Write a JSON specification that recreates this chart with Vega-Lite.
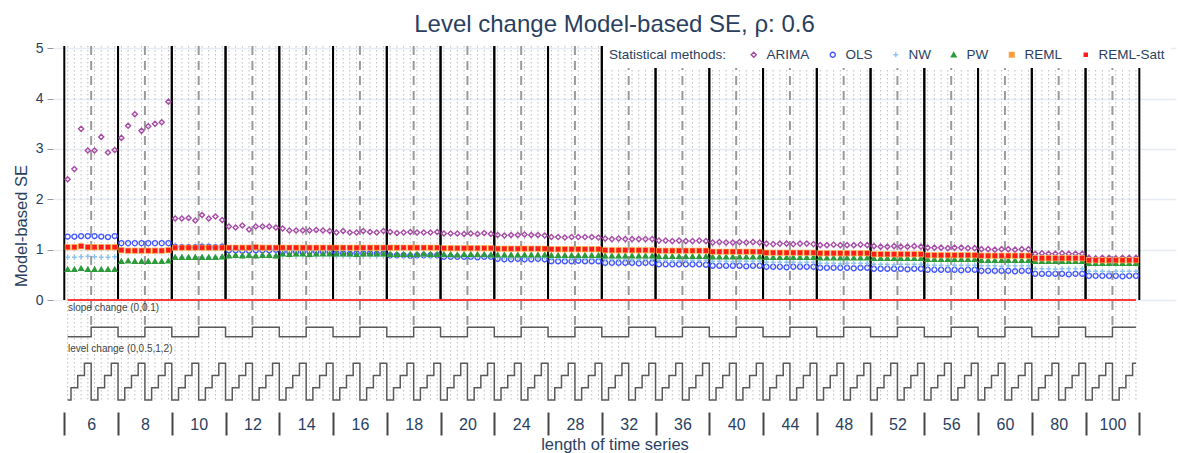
{
"$schema": "https://vega.github.io/schema/vega-lite/v6.json",
"width": 1123, "height": 359,
"autosize": {"type": "none"},
"padding": {"left": 53, "top": 46, "right": 2, "bottom": 48},
"background": "white",
"config": {"view": {"stroke": null}, "font": "Liberation Sans", "legend": {"symbolStrokeWidth": 1.4}},
"title": {"text": "Level change Model-based SE, ρ: 0.6", "fontSize": 24, "fontWeight": "normal", "color": "#2a3f5f", "anchor": "middle", "offset": 4},
"data": {"values": [
{"i":1,"n":6,"slope":0,"level":0,"ARIMA":2.40,"OLS":1.26,"NW":0.85,"PW":0.61,"REML":1.05,"REML-Satt":1.05},
{"i":2,"n":6,"slope":0,"level":0.5,"ARIMA":2.60,"OLS":1.26,"NW":0.85,"PW":0.61,"REML":1.05,"REML-Satt":1.05},
{"i":3,"n":6,"slope":0,"level":1,"ARIMA":3.40,"OLS":1.27,"NW":0.86,"PW":0.63,"REML":1.07,"REML-Satt":1.07},
{"i":4,"n":6,"slope":0,"level":2,"ARIMA":2.97,"OLS":1.27,"NW":0.87,"PW":0.61,"REML":1.05,"REML-Satt":1.05},
{"i":5,"n":6,"slope":0.1,"level":0,"ARIMA":2.97,"OLS":1.27,"NW":0.86,"PW":0.61,"REML":1.05,"REML-Satt":1.05},
{"i":6,"n":6,"slope":0.1,"level":0.5,"ARIMA":3.24,"OLS":1.26,"NW":0.85,"PW":0.61,"REML":1.05,"REML-Satt":1.05},
{"i":7,"n":6,"slope":0.1,"level":1,"ARIMA":2.93,"OLS":1.25,"NW":0.85,"PW":0.61,"REML":1.05,"REML-Satt":1.05},
{"i":8,"n":6,"slope":0.1,"level":2,"ARIMA":2.98,"OLS":1.27,"NW":0.86,"PW":0.61,"REML":1.05,"REML-Satt":1.05},
{"i":9,"n":8,"slope":0,"level":0,"ARIMA":3.22,"OLS":1.13,"NW":0.98,"PW":0.77,"REML":0.99,"REML-Satt":0.99},
{"i":10,"n":8,"slope":0,"level":0.5,"ARIMA":3.46,"OLS":1.13,"NW":0.98,"PW":0.78,"REML":0.98,"REML-Satt":0.98},
{"i":11,"n":8,"slope":0,"level":1,"ARIMA":3.69,"OLS":1.13,"NW":0.98,"PW":0.77,"REML":0.98,"REML-Satt":0.98},
{"i":12,"n":8,"slope":0,"level":2,"ARIMA":3.36,"OLS":1.13,"NW":0.98,"PW":0.77,"REML":0.98,"REML-Satt":0.98},
{"i":13,"n":8,"slope":0.1,"level":0,"ARIMA":3.45,"OLS":1.13,"NW":0.98,"PW":0.77,"REML":0.98,"REML-Satt":0.98},
{"i":14,"n":8,"slope":0.1,"level":0.5,"ARIMA":3.50,"OLS":1.13,"NW":0.98,"PW":0.77,"REML":0.98,"REML-Satt":0.98},
{"i":15,"n":8,"slope":0.1,"level":1,"ARIMA":3.53,"OLS":1.13,"NW":0.98,"PW":0.77,"REML":0.98,"REML-Satt":0.98},
{"i":16,"n":8,"slope":0.1,"level":2,"ARIMA":3.94,"OLS":1.13,"NW":0.99,"PW":0.78,"REML":0.99,"REML-Satt":0.99},
{"i":17,"n":10,"slope":0,"level":0,"ARIMA":1.62,"OLS":1.06,"NW":0.85,"PW":0.85,"REML":1.04,"REML-Satt":1.04},
{"i":18,"n":10,"slope":0,"level":0.5,"ARIMA":1.62,"OLS":1.05,"NW":0.85,"PW":0.85,"REML":1.04,"REML-Satt":1.04},
{"i":19,"n":10,"slope":0,"level":1,"ARIMA":1.63,"OLS":1.05,"NW":0.85,"PW":0.85,"REML":1.04,"REML-Satt":1.04},
{"i":20,"n":10,"slope":0,"level":2,"ARIMA":1.58,"OLS":1.05,"NW":0.85,"PW":0.85,"REML":1.04,"REML-Satt":1.04},
{"i":21,"n":10,"slope":0.1,"level":0,"ARIMA":1.69,"OLS":1.06,"NW":0.85,"PW":0.85,"REML":1.04,"REML-Satt":1.04},
{"i":22,"n":10,"slope":0.1,"level":0.5,"ARIMA":1.62,"OLS":1.06,"NW":0.85,"PW":0.85,"REML":1.04,"REML-Satt":1.04},
{"i":23,"n":10,"slope":0.1,"level":1,"ARIMA":1.66,"OLS":1.05,"NW":0.85,"PW":0.85,"REML":1.04,"REML-Satt":1.04},
{"i":24,"n":10,"slope":0.1,"level":2,"ARIMA":1.59,"OLS":1.06,"NW":0.86,"PW":0.86,"REML":1.04,"REML-Satt":1.04},
{"i":25,"n":12,"slope":0,"level":0,"ARIMA":1.46,"OLS":0.99,"NW":0.88,"PW":0.88,"REML":1.04,"REML-Satt":1.04},
{"i":26,"n":12,"slope":0,"level":0.5,"ARIMA":1.44,"OLS":0.99,"NW":0.89,"PW":0.89,"REML":1.04,"REML-Satt":1.04},
{"i":27,"n":12,"slope":0,"level":1,"ARIMA":1.48,"OLS":0.98,"NW":0.88,"PW":0.88,"REML":1.04,"REML-Satt":1.04},
{"i":28,"n":12,"slope":0,"level":2,"ARIMA":1.40,"OLS":0.98,"NW":0.89,"PW":0.89,"REML":1.04,"REML-Satt":1.04},
{"i":29,"n":12,"slope":0.1,"level":0,"ARIMA":1.46,"OLS":0.99,"NW":0.88,"PW":0.88,"REML":1.05,"REML-Satt":1.05},
{"i":30,"n":12,"slope":0.1,"level":0.5,"ARIMA":1.46,"OLS":0.99,"NW":0.89,"PW":0.89,"REML":1.04,"REML-Satt":1.04},
{"i":31,"n":12,"slope":0.1,"level":1,"ARIMA":1.46,"OLS":0.99,"NW":0.89,"PW":0.89,"REML":1.04,"REML-Satt":1.04},
{"i":32,"n":12,"slope":0.1,"level":2,"ARIMA":1.44,"OLS":1.00,"NW":0.88,"PW":0.88,"REML":1.04,"REML-Satt":1.04},
{"i":33,"n":14,"slope":0,"level":0,"ARIMA":1.42,"OLS":0.96,"NW":0.89,"PW":0.92,"REML":1.04,"REML-Satt":1.04},
{"i":34,"n":14,"slope":0,"level":0.5,"ARIMA":1.38,"OLS":0.96,"NW":0.89,"PW":0.91,"REML":1.04,"REML-Satt":1.04},
{"i":35,"n":14,"slope":0,"level":1,"ARIMA":1.38,"OLS":0.96,"NW":0.88,"PW":0.92,"REML":1.04,"REML-Satt":1.04},
{"i":36,"n":14,"slope":0,"level":2,"ARIMA":1.38,"OLS":0.95,"NW":0.89,"PW":0.92,"REML":1.04,"REML-Satt":1.04},
{"i":37,"n":14,"slope":0.1,"level":0,"ARIMA":1.38,"OLS":0.96,"NW":0.89,"PW":0.91,"REML":1.04,"REML-Satt":1.04},
{"i":38,"n":14,"slope":0.1,"level":0.5,"ARIMA":1.39,"OLS":0.96,"NW":0.88,"PW":0.92,"REML":1.04,"REML-Satt":1.04},
{"i":39,"n":14,"slope":0.1,"level":1,"ARIMA":1.38,"OLS":0.96,"NW":0.89,"PW":0.92,"REML":1.04,"REML-Satt":1.04},
{"i":40,"n":14,"slope":0.1,"level":2,"ARIMA":1.37,"OLS":0.95,"NW":0.89,"PW":0.92,"REML":1.04,"REML-Satt":1.04},
{"i":41,"n":16,"slope":0,"level":0,"ARIMA":1.34,"OLS":0.93,"NW":0.88,"PW":0.92,"REML":1.04,"REML-Satt":1.04},
{"i":42,"n":16,"slope":0,"level":0.5,"ARIMA":1.37,"OLS":0.93,"NW":0.88,"PW":0.92,"REML":1.04,"REML-Satt":1.04},
{"i":43,"n":16,"slope":0,"level":1,"ARIMA":1.34,"OLS":0.92,"NW":0.87,"PW":0.92,"REML":1.04,"REML-Satt":1.04},
{"i":44,"n":16,"slope":0,"level":2,"ARIMA":1.34,"OLS":0.93,"NW":0.88,"PW":0.91,"REML":1.04,"REML-Satt":1.04},
{"i":45,"n":16,"slope":0.1,"level":0,"ARIMA":1.37,"OLS":0.93,"NW":0.88,"PW":0.92,"REML":1.04,"REML-Satt":1.04},
{"i":46,"n":16,"slope":0.1,"level":0.5,"ARIMA":1.35,"OLS":0.93,"NW":0.88,"PW":0.92,"REML":1.04,"REML-Satt":1.04},
{"i":47,"n":16,"slope":0.1,"level":1,"ARIMA":1.34,"OLS":0.92,"NW":0.87,"PW":0.92,"REML":1.04,"REML-Satt":1.04},
{"i":48,"n":16,"slope":0.1,"level":2,"ARIMA":1.37,"OLS":0.93,"NW":0.88,"PW":0.92,"REML":1.04,"REML-Satt":1.04},
{"i":49,"n":18,"slope":0,"level":0,"ARIMA":1.35,"OLS":0.89,"NW":0.87,"PW":0.91,"REML":1.04,"REML-Satt":1.04},
{"i":50,"n":18,"slope":0,"level":0.5,"ARIMA":1.33,"OLS":0.89,"NW":0.87,"PW":0.91,"REML":1.04,"REML-Satt":1.04},
{"i":51,"n":18,"slope":0,"level":1,"ARIMA":1.34,"OLS":0.89,"NW":0.86,"PW":0.91,"REML":1.04,"REML-Satt":1.04},
{"i":52,"n":18,"slope":0,"level":2,"ARIMA":1.35,"OLS":0.88,"NW":0.87,"PW":0.91,"REML":1.04,"REML-Satt":1.04},
{"i":53,"n":18,"slope":0.1,"level":0,"ARIMA":1.34,"OLS":0.89,"NW":0.87,"PW":0.91,"REML":1.04,"REML-Satt":1.04},
{"i":54,"n":18,"slope":0.1,"level":0.5,"ARIMA":1.34,"OLS":0.89,"NW":0.87,"PW":0.92,"REML":1.04,"REML-Satt":1.04},
{"i":55,"n":18,"slope":0.1,"level":1,"ARIMA":1.34,"OLS":0.89,"NW":0.86,"PW":0.91,"REML":1.04,"REML-Satt":1.04},
{"i":56,"n":18,"slope":0.1,"level":2,"ARIMA":1.35,"OLS":0.89,"NW":0.87,"PW":0.91,"REML":1.04,"REML-Satt":1.04},
{"i":57,"n":20,"slope":0,"level":0,"ARIMA":1.32,"OLS":0.86,"NW":0.87,"PW":0.91,"REML":1.03,"REML-Satt":1.03},
{"i":58,"n":20,"slope":0,"level":0.5,"ARIMA":1.32,"OLS":0.86,"NW":0.86,"PW":0.91,"REML":1.03,"REML-Satt":1.03},
{"i":59,"n":20,"slope":0,"level":1,"ARIMA":1.32,"OLS":0.86,"NW":0.87,"PW":0.90,"REML":1.03,"REML-Satt":1.03},
{"i":60,"n":20,"slope":0,"level":2,"ARIMA":1.31,"OLS":0.86,"NW":0.87,"PW":0.91,"REML":1.03,"REML-Satt":1.03},
{"i":61,"n":20,"slope":0.1,"level":0,"ARIMA":1.32,"OLS":0.86,"NW":0.86,"PW":0.91,"REML":1.03,"REML-Satt":1.03},
{"i":62,"n":20,"slope":0.1,"level":0.5,"ARIMA":1.31,"OLS":0.85,"NW":0.87,"PW":0.91,"REML":1.03,"REML-Satt":1.03},
{"i":63,"n":20,"slope":0.1,"level":1,"ARIMA":1.33,"OLS":0.86,"NW":0.87,"PW":0.91,"REML":1.03,"REML-Satt":1.03},
{"i":64,"n":20,"slope":0.1,"level":2,"ARIMA":1.31,"OLS":0.86,"NW":0.86,"PW":0.90,"REML":1.03,"REML-Satt":1.03},
{"i":65,"n":24,"slope":0,"level":0,"ARIMA":1.29,"OLS":0.82,"NW":0.85,"PW":0.90,"REML":1.02,"REML-Satt":1.02},
{"i":66,"n":24,"slope":0,"level":0.5,"ARIMA":1.28,"OLS":0.81,"NW":0.85,"PW":0.90,"REML":1.02,"REML-Satt":1.02},
{"i":67,"n":24,"slope":0,"level":1,"ARIMA":1.29,"OLS":0.81,"NW":0.84,"PW":0.90,"REML":1.02,"REML-Satt":1.02},
{"i":68,"n":24,"slope":0,"level":2,"ARIMA":1.29,"OLS":0.82,"NW":0.85,"PW":0.90,"REML":1.02,"REML-Satt":1.02},
{"i":69,"n":24,"slope":0.1,"level":0,"ARIMA":1.30,"OLS":0.81,"NW":0.85,"PW":0.90,"REML":1.02,"REML-Satt":1.02},
{"i":70,"n":24,"slope":0.1,"level":0.5,"ARIMA":1.29,"OLS":0.81,"NW":0.85,"PW":0.90,"REML":1.02,"REML-Satt":1.02},
{"i":71,"n":24,"slope":0.1,"level":1,"ARIMA":1.29,"OLS":0.82,"NW":0.84,"PW":0.90,"REML":1.02,"REML-Satt":1.02},
{"i":72,"n":24,"slope":0.1,"level":2,"ARIMA":1.28,"OLS":0.81,"NW":0.85,"PW":0.90,"REML":1.02,"REML-Satt":1.02},
{"i":73,"n":28,"slope":0,"level":0,"ARIMA":1.25,"OLS":0.77,"NW":0.83,"PW":0.89,"REML":1.01,"REML-Satt":1.01},
{"i":74,"n":28,"slope":0,"level":0.5,"ARIMA":1.25,"OLS":0.77,"NW":0.83,"PW":0.89,"REML":1.01,"REML-Satt":1.01},
{"i":75,"n":28,"slope":0,"level":1,"ARIMA":1.24,"OLS":0.77,"NW":0.83,"PW":0.89,"REML":1.01,"REML-Satt":1.01},
{"i":76,"n":28,"slope":0,"level":2,"ARIMA":1.25,"OLS":0.77,"NW":0.82,"PW":0.89,"REML":1.01,"REML-Satt":1.01},
{"i":77,"n":28,"slope":0.1,"level":0,"ARIMA":1.25,"OLS":0.78,"NW":0.83,"PW":0.89,"REML":1.01,"REML-Satt":1.01},
{"i":78,"n":28,"slope":0.1,"level":0.5,"ARIMA":1.25,"OLS":0.77,"NW":0.83,"PW":0.89,"REML":1.01,"REML-Satt":1.01},
{"i":79,"n":28,"slope":0.1,"level":1,"ARIMA":1.25,"OLS":0.77,"NW":0.83,"PW":0.89,"REML":1.01,"REML-Satt":1.01},
{"i":80,"n":28,"slope":0.1,"level":2,"ARIMA":1.24,"OLS":0.77,"NW":0.83,"PW":0.89,"REML":1.01,"REML-Satt":1.01},
{"i":81,"n":32,"slope":0,"level":0,"ARIMA":1.22,"OLS":0.74,"NW":0.81,"PW":0.88,"REML":0.99,"REML-Satt":0.99},
{"i":82,"n":32,"slope":0,"level":0.5,"ARIMA":1.21,"OLS":0.74,"NW":0.81,"PW":0.88,"REML":0.99,"REML-Satt":0.99},
{"i":83,"n":32,"slope":0,"level":1,"ARIMA":1.22,"OLS":0.74,"NW":0.81,"PW":0.88,"REML":0.99,"REML-Satt":0.99},
{"i":84,"n":32,"slope":0,"level":2,"ARIMA":1.21,"OLS":0.74,"NW":0.81,"PW":0.88,"REML":0.99,"REML-Satt":0.99},
{"i":85,"n":32,"slope":0.1,"level":0,"ARIMA":1.21,"OLS":0.74,"NW":0.80,"PW":0.88,"REML":0.99,"REML-Satt":0.99},
{"i":86,"n":32,"slope":0.1,"level":0.5,"ARIMA":1.21,"OLS":0.73,"NW":0.81,"PW":0.88,"REML":0.99,"REML-Satt":0.99},
{"i":87,"n":32,"slope":0.1,"level":1,"ARIMA":1.21,"OLS":0.74,"NW":0.81,"PW":0.88,"REML":0.99,"REML-Satt":0.99},
{"i":88,"n":32,"slope":0.1,"level":2,"ARIMA":1.21,"OLS":0.74,"NW":0.81,"PW":0.88,"REML":0.99,"REML-Satt":0.99},
{"i":89,"n":36,"slope":0,"level":0,"ARIMA":1.18,"OLS":0.71,"NW":0.79,"PW":0.87,"REML":0.98,"REML-Satt":0.98},
{"i":90,"n":36,"slope":0,"level":0.5,"ARIMA":1.18,"OLS":0.71,"NW":0.79,"PW":0.87,"REML":0.98,"REML-Satt":0.98},
{"i":91,"n":36,"slope":0,"level":1,"ARIMA":1.17,"OLS":0.71,"NW":0.78,"PW":0.87,"REML":0.98,"REML-Satt":0.98},
{"i":92,"n":36,"slope":0,"level":2,"ARIMA":1.18,"OLS":0.71,"NW":0.79,"PW":0.87,"REML":0.98,"REML-Satt":0.98},
{"i":93,"n":36,"slope":0.1,"level":0,"ARIMA":1.17,"OLS":0.71,"NW":0.79,"PW":0.87,"REML":0.98,"REML-Satt":0.98},
{"i":94,"n":36,"slope":0.1,"level":0.5,"ARIMA":1.17,"OLS":0.71,"NW":0.79,"PW":0.87,"REML":0.98,"REML-Satt":0.98},
{"i":95,"n":36,"slope":0.1,"level":1,"ARIMA":1.18,"OLS":0.71,"NW":0.79,"PW":0.87,"REML":0.98,"REML-Satt":0.98},
{"i":96,"n":36,"slope":0.1,"level":2,"ARIMA":1.17,"OLS":0.70,"NW":0.79,"PW":0.87,"REML":0.98,"REML-Satt":0.98},
{"i":97,"n":40,"slope":0,"level":0,"ARIMA":1.14,"OLS":0.68,"NW":0.77,"PW":0.86,"REML":0.96,"REML-Satt":0.96},
{"i":98,"n":40,"slope":0,"level":0.5,"ARIMA":1.15,"OLS":0.68,"NW":0.77,"PW":0.86,"REML":0.96,"REML-Satt":0.96},
{"i":99,"n":40,"slope":0,"level":1,"ARIMA":1.14,"OLS":0.68,"NW":0.77,"PW":0.86,"REML":0.96,"REML-Satt":0.96},
{"i":100,"n":40,"slope":0,"level":2,"ARIMA":1.14,"OLS":0.68,"NW":0.76,"PW":0.86,"REML":0.96,"REML-Satt":0.96},
{"i":101,"n":40,"slope":0.1,"level":0,"ARIMA":1.15,"OLS":0.68,"NW":0.77,"PW":0.86,"REML":0.96,"REML-Satt":0.96},
{"i":102,"n":40,"slope":0.1,"level":0.5,"ARIMA":1.14,"OLS":0.67,"NW":0.77,"PW":0.86,"REML":0.96,"REML-Satt":0.96},
{"i":103,"n":40,"slope":0.1,"level":1,"ARIMA":1.15,"OLS":0.68,"NW":0.77,"PW":0.86,"REML":0.96,"REML-Satt":0.96},
{"i":104,"n":40,"slope":0.1,"level":2,"ARIMA":1.14,"OLS":0.68,"NW":0.77,"PW":0.86,"REML":0.96,"REML-Satt":0.96},
{"i":105,"n":44,"slope":0,"level":0,"ARIMA":1.12,"OLS":0.66,"NW":0.75,"PW":0.85,"REML":0.94,"REML-Satt":0.94},
{"i":106,"n":44,"slope":0,"level":0.5,"ARIMA":1.11,"OLS":0.66,"NW":0.75,"PW":0.85,"REML":0.94,"REML-Satt":0.94},
{"i":107,"n":44,"slope":0,"level":1,"ARIMA":1.12,"OLS":0.66,"NW":0.75,"PW":0.85,"REML":0.94,"REML-Satt":0.94},
{"i":108,"n":44,"slope":0,"level":2,"ARIMA":1.12,"OLS":0.65,"NW":0.75,"PW":0.85,"REML":0.94,"REML-Satt":0.94},
{"i":109,"n":44,"slope":0.1,"level":0,"ARIMA":1.11,"OLS":0.66,"NW":0.75,"PW":0.85,"REML":0.94,"REML-Satt":0.94},
{"i":110,"n":44,"slope":0.1,"level":0.5,"ARIMA":1.12,"OLS":0.66,"NW":0.74,"PW":0.85,"REML":0.94,"REML-Satt":0.94},
{"i":111,"n":44,"slope":0.1,"level":1,"ARIMA":1.12,"OLS":0.66,"NW":0.75,"PW":0.85,"REML":0.94,"REML-Satt":0.94},
{"i":112,"n":44,"slope":0.1,"level":2,"ARIMA":1.11,"OLS":0.66,"NW":0.75,"PW":0.85,"REML":0.94,"REML-Satt":0.94},
{"i":113,"n":48,"slope":0,"level":0,"ARIMA":1.09,"OLS":0.64,"NW":0.73,"PW":0.84,"REML":0.93,"REML-Satt":0.93},
{"i":114,"n":48,"slope":0,"level":0.5,"ARIMA":1.09,"OLS":0.64,"NW":0.73,"PW":0.84,"REML":0.93,"REML-Satt":0.93},
{"i":115,"n":48,"slope":0,"level":1,"ARIMA":1.10,"OLS":0.64,"NW":0.73,"PW":0.84,"REML":0.93,"REML-Satt":0.93},
{"i":116,"n":48,"slope":0,"level":2,"ARIMA":1.09,"OLS":0.64,"NW":0.72,"PW":0.84,"REML":0.93,"REML-Satt":0.93},
{"i":117,"n":48,"slope":0.1,"level":0,"ARIMA":1.09,"OLS":0.64,"NW":0.73,"PW":0.84,"REML":0.93,"REML-Satt":0.93},
{"i":118,"n":48,"slope":0.1,"level":0.5,"ARIMA":1.09,"OLS":0.63,"NW":0.73,"PW":0.84,"REML":0.93,"REML-Satt":0.93},
{"i":119,"n":48,"slope":0.1,"level":1,"ARIMA":1.10,"OLS":0.64,"NW":0.73,"PW":0.84,"REML":0.93,"REML-Satt":0.93},
{"i":120,"n":48,"slope":0.1,"level":2,"ARIMA":1.09,"OLS":0.64,"NW":0.73,"PW":0.84,"REML":0.93,"REML-Satt":0.93},
{"i":121,"n":52,"slope":0,"level":0,"ARIMA":1.07,"OLS":0.62,"NW":0.71,"PW":0.83,"REML":0.91,"REML-Satt":0.91},
{"i":122,"n":52,"slope":0,"level":0.5,"ARIMA":1.06,"OLS":0.62,"NW":0.71,"PW":0.83,"REML":0.91,"REML-Satt":0.91},
{"i":123,"n":52,"slope":0,"level":1,"ARIMA":1.06,"OLS":0.62,"NW":0.71,"PW":0.83,"REML":0.91,"REML-Satt":0.91},
{"i":124,"n":52,"slope":0,"level":2,"ARIMA":1.07,"OLS":0.62,"NW":0.70,"PW":0.83,"REML":0.91,"REML-Satt":0.91},
{"i":125,"n":52,"slope":0.1,"level":0,"ARIMA":1.06,"OLS":0.62,"NW":0.71,"PW":0.83,"REML":0.91,"REML-Satt":0.91},
{"i":126,"n":52,"slope":0.1,"level":0.5,"ARIMA":1.06,"OLS":0.61,"NW":0.71,"PW":0.83,"REML":0.91,"REML-Satt":0.91},
{"i":127,"n":52,"slope":0.1,"level":1,"ARIMA":1.07,"OLS":0.62,"NW":0.71,"PW":0.83,"REML":0.91,"REML-Satt":0.91},
{"i":128,"n":52,"slope":0.1,"level":2,"ARIMA":1.06,"OLS":0.62,"NW":0.71,"PW":0.83,"REML":0.91,"REML-Satt":0.91},
{"i":129,"n":56,"slope":0,"level":0,"ARIMA":1.04,"OLS":0.60,"NW":0.69,"PW":0.81,"REML":0.89,"REML-Satt":0.89},
{"i":130,"n":56,"slope":0,"level":0.5,"ARIMA":1.04,"OLS":0.60,"NW":0.69,"PW":0.81,"REML":0.89,"REML-Satt":0.89},
{"i":131,"n":56,"slope":0,"level":1,"ARIMA":1.04,"OLS":0.60,"NW":0.69,"PW":0.81,"REML":0.89,"REML-Satt":0.89},
{"i":132,"n":56,"slope":0,"level":2,"ARIMA":1.03,"OLS":0.60,"NW":0.68,"PW":0.81,"REML":0.89,"REML-Satt":0.89},
{"i":133,"n":56,"slope":0.1,"level":0,"ARIMA":1.04,"OLS":0.60,"NW":0.69,"PW":0.81,"REML":0.89,"REML-Satt":0.89},
{"i":134,"n":56,"slope":0.1,"level":0.5,"ARIMA":1.04,"OLS":0.59,"NW":0.69,"PW":0.81,"REML":0.89,"REML-Satt":0.89},
{"i":135,"n":56,"slope":0.1,"level":1,"ARIMA":1.03,"OLS":0.60,"NW":0.69,"PW":0.81,"REML":0.89,"REML-Satt":0.89},
{"i":136,"n":56,"slope":0.1,"level":2,"ARIMA":1.03,"OLS":0.60,"NW":0.69,"PW":0.81,"REML":0.89,"REML-Satt":0.89},
{"i":137,"n":60,"slope":0,"level":0,"ARIMA":1.01,"OLS":0.58,"NW":0.68,"PW":0.79,"REML":0.88,"REML-Satt":0.88},
{"i":138,"n":60,"slope":0,"level":0.5,"ARIMA":1.01,"OLS":0.58,"NW":0.68,"PW":0.79,"REML":0.88,"REML-Satt":0.88},
{"i":139,"n":60,"slope":0,"level":1,"ARIMA":1.00,"OLS":0.58,"NW":0.68,"PW":0.79,"REML":0.88,"REML-Satt":0.88},
{"i":140,"n":60,"slope":0,"level":2,"ARIMA":1.01,"OLS":0.58,"NW":0.67,"PW":0.79,"REML":0.88,"REML-Satt":0.88},
{"i":141,"n":60,"slope":0.1,"level":0,"ARIMA":1.01,"OLS":0.58,"NW":0.68,"PW":0.79,"REML":0.88,"REML-Satt":0.88},
{"i":142,"n":60,"slope":0.1,"level":0.5,"ARIMA":1.00,"OLS":0.57,"NW":0.68,"PW":0.79,"REML":0.88,"REML-Satt":0.88},
{"i":143,"n":60,"slope":0.1,"level":1,"ARIMA":1.01,"OLS":0.58,"NW":0.68,"PW":0.79,"REML":0.88,"REML-Satt":0.88},
{"i":144,"n":60,"slope":0.1,"level":2,"ARIMA":1.01,"OLS":0.58,"NW":0.68,"PW":0.79,"REML":0.88,"REML-Satt":0.88},
{"i":145,"n":80,"slope":0,"level":0,"ARIMA":0.92,"OLS":0.52,"NW":0.62,"PW":0.77,"REML":0.83,"REML-Satt":0.83},
{"i":146,"n":80,"slope":0,"level":0.5,"ARIMA":0.93,"OLS":0.52,"NW":0.62,"PW":0.77,"REML":0.83,"REML-Satt":0.83},
{"i":147,"n":80,"slope":0,"level":1,"ARIMA":0.92,"OLS":0.52,"NW":0.62,"PW":0.77,"REML":0.83,"REML-Satt":0.83},
{"i":148,"n":80,"slope":0,"level":2,"ARIMA":0.92,"OLS":0.52,"NW":0.61,"PW":0.77,"REML":0.83,"REML-Satt":0.83},
{"i":149,"n":80,"slope":0.1,"level":0,"ARIMA":0.93,"OLS":0.52,"NW":0.62,"PW":0.77,"REML":0.83,"REML-Satt":0.83},
{"i":150,"n":80,"slope":0.1,"level":0.5,"ARIMA":0.92,"OLS":0.51,"NW":0.62,"PW":0.77,"REML":0.83,"REML-Satt":0.83},
{"i":151,"n":80,"slope":0.1,"level":1,"ARIMA":0.92,"OLS":0.52,"NW":0.62,"PW":0.77,"REML":0.83,"REML-Satt":0.83},
{"i":152,"n":80,"slope":0.1,"level":2,"ARIMA":0.92,"OLS":0.52,"NW":0.62,"PW":0.77,"REML":0.83,"REML-Satt":0.83},
{"i":153,"n":100,"slope":0,"level":0,"ARIMA":0.84,"OLS":0.48,"NW":0.57,"PW":0.73,"REML":0.79,"REML-Satt":0.79},
{"i":154,"n":100,"slope":0,"level":0.5,"ARIMA":0.83,"OLS":0.48,"NW":0.57,"PW":0.73,"REML":0.79,"REML-Satt":0.79},
{"i":155,"n":100,"slope":0,"level":1,"ARIMA":0.84,"OLS":0.48,"NW":0.57,"PW":0.73,"REML":0.79,"REML-Satt":0.79},
{"i":156,"n":100,"slope":0,"level":2,"ARIMA":0.84,"OLS":0.48,"NW":0.56,"PW":0.73,"REML":0.79,"REML-Satt":0.79},
{"i":157,"n":100,"slope":0.1,"level":0,"ARIMA":0.83,"OLS":0.48,"NW":0.57,"PW":0.73,"REML":0.79,"REML-Satt":0.79},
{"i":158,"n":100,"slope":0.1,"level":0.5,"ARIMA":0.84,"OLS":0.47,"NW":0.57,"PW":0.73,"REML":0.79,"REML-Satt":0.79},
{"i":159,"n":100,"slope":0.1,"level":1,"ARIMA":0.84,"OLS":0.48,"NW":0.57,"PW":0.73,"REML":0.79,"REML-Satt":0.79},
{"i":160,"n":100,"slope":0.1,"level":2,"ARIMA":0.84,"OLS":0.48,"NW":0.57,"PW":0.73,"REML":0.79,"REML-Satt":0.79}
]},
"resolve": {"scale": {"y": "independent"}},
"layer": [
 {"layer": [
  {"mark": {"type": "rule", "color": "#bdbdbd", "strokeWidth": 1, "strokeDash": [1.5, 2.5]},
   "encoding": {
    "x": {"field": "i", "type": "quantitative", "scale": {"domain": [-1.18, 165.96], "nice": false, "zero": false},
      "axis": {"values": [0.5,8.5,16.5,24.5,32.5,40.5,48.5,56.5,64.5,72.5,80.5,88.5,96.5,104.5,112.5,120.5,128.5,136.5,144.5,152.5,160.5],
        "title": "length of time series", "titleFontSize": 16.5, "titleFontWeight": "normal", "titleColor": "#2a3f5f", "titlePadding": 0,
        "domain": false, "grid": false, "ticks": true, "tickSize": 23, "tickWidth": 2, "tickColor": "#444", "offset": 7,
        "labelExpr": "['6','8','10','12','14','16','18','20','24','28','32','36','40','44','48','52','56','60','80','100',''][floor(datum.value/8)]",
        "labelOffset": 26.9, "labelAlign": "center", "labelBaseline": "middle", "labelPadding": -10.5, "labelFontSize": 16, "labelColor": "#2a3f5f",
        "labelOverlap": false, "labelFlush": false, "labelBound": false}},
    "y": {"datum": 5.0457, "type": "quantitative", "scale": {"domain": [-2.0858, 5.0457], "nice": false, "zero": false},
      "axis": {"values": [0,1,2,3,4,5], "title": "Model-based SE", "titleFontSize": 16.5, "titleFontWeight": "normal", "titleColor": "#2a3f5f", "titlePadding": 6,
        "domain": false, "grid": true, "gridColor": "#e6ecf2", "gridWidth": 1.5, "ticks": true, "tickSize": 6, "tickColor": "#999", "tickWidth": 1,
        "labelFontSize": 14, "labelColor": "#2a3f5f", "labelPadding": 4}},
    "y2": {"datum": -2.0}
   }},
  {"transform": [{"filter": {"field": "i", "gte": 5}}, {"bin": {"step": 8, "anchor": 4.5}, "field": "i", "as": "mid"}, {"aggregate": [{"op": "count", "as": "c"}], "groupby": ["mid"]}],
   "mark": {"type": "rule", "color": "#9a9a9a", "strokeWidth": 2, "strokeDash": [9, 6]},
   "encoding": {"x": {"field": "mid", "type": "quantitative"}, "y": {"datum": 5.0457, "type": "quantitative"}, "y2": {"datum": -0.5}}},
  {"transform": [{"bin": {"step": 8, "anchor": 0.5}, "field": "i", "as": "b"}, {"aggregate": [{"op": "count", "as": "c"}], "groupby": ["b", "b_end"]}],
   "layer": [
    {"mark": {"type": "rule", "color": "#000000", "strokeWidth": 2},
     "encoding": {"x": {"field": "b", "type": "quantitative"}, "y": {"datum": 5.0457, "type": "quantitative"}, "y2": {"datum": 0}}},
    {"mark": {"type": "rule", "color": "#000000", "strokeWidth": 2},
     "encoding": {"x": {"field": "b_end", "type": "quantitative"}, "y": {"datum": 5.0457, "type": "quantitative"}, "y2": {"datum": 0}}}
   ]},
  {"transform": [{"aggregate": [{"op": "min", "field": "i", "as": "i0"}, {"op": "max", "field": "i", "as": "i1"}]}],
   "mark": {"type": "rule", "color": "#ff3b3b", "strokeWidth": 2},
   "encoding": {"x": {"field": "i0", "type": "quantitative"}, "x2": {"field": "i1"}, "y": {"datum": 0, "type": "quantitative"}}},
  {"transform": [{"fold": ["ARIMA", "OLS", "NW", "PW", "REML", "REML-Satt"], "as": ["method", "se"]}],
   "mark": {"type": "point", "strokeWidth": 1.4, "opacity": 1},
   "encoding": {
    "x": {"field": "i", "type": "quantitative"},
    "y": {"field": "se", "type": "quantitative"},
    "stroke": {"field": "method", "type": "nominal",
      "scale": {"domain": ["ARIMA", "OLS", "NW", "PW", "REML", "REML-Satt"], "range": ["#a64ca6", "#4255ff", "#8fc3ee", "#2e9b3a", "#ffa040", "transparent"]},
      "legend": {"title": "Statistical methods:", "orient": "none", "legendX": 550, "legendY": -4, "direction": "horizontal", "columns": 6, "gridAlign": "none",
        "titleOrient": "left", "fillColor": "white", "padding": 6, "labelFontSize": 13.5, "titleFontSize": 13.5, "titleFontWeight": "normal",
        "titleColor": "#2a3f5f", "labelColor": "#2a3f5f", "columnPadding": 16, "labelOffset": 6, "titlePadding": 20, "labelLimit": 200}},
    "fill": {"field": "method", "type": "nominal",
      "scale": {"domain": ["ARIMA", "OLS", "NW", "PW", "REML", "REML-Satt"], "range": ["transparent", "transparent", "transparent", "#2e9b3a", "#ff9a2e", "#ff1a1a"]}},
    "shape": {"field": "method", "type": "nominal",
      "scale": {"domain": ["ARIMA", "OLS", "NW", "PW", "REML", "REML-Satt"], "range": ["diamond", "circle", "M-1,0H1M0,-1V1", "triangle-up", "square", "square"]}},
    "size": {"field": "method", "type": "nominal",
      "scale": {"domain": ["ARIMA", "OLS", "NW", "PW", "REML", "REML-Satt"], "range": [26, 20, 22, 24, 24, 9]}}
   }},
  {"data": {"values": [{}]},
   "mark": {"type": "text", "align": "left", "baseline": "middle", "fontSize": 10, "color": "#444"},
   "encoding": {"x": {"datum": 1.05, "type": "quantitative"}, "y": {"datum": -0.159, "type": "quantitative"}, "text": {"value": "slope change (0,0.1)"}}},
  {"data": {"values": [{}]},
   "mark": {"type": "text", "align": "left", "baseline": "middle", "fontSize": 10, "color": "#444"},
   "encoding": {"x": {"datum": 1.05, "type": "quantitative"}, "y": {"datum": -0.973, "type": "quantitative"}, "text": {"value": "level change (0,0.5,1,2)"}}}
 ]},
 {"mark": {"type": "line", "interpolate": "step", "color": "#5a5a5a", "strokeWidth": 1.5},
  "encoding": {"x": {"field": "i", "type": "quantitative"},
   "y": {"field": "slope", "type": "ordinal", "scale": {"type": "point", "domain": [0.1, 0], "range": [281.3, 290.7], "padding": 0}, "axis": null},
   "order": {"field": "i", "type": "quantitative"}}},
 {"mark": {"type": "line", "interpolate": "step", "color": "#5a5a5a", "strokeWidth": 1.5},
  "encoding": {"x": {"field": "i", "type": "quantitative"},
   "y": {"field": "level", "type": "ordinal", "scale": {"type": "point", "domain": [2, 1, 0.5, 0], "range": [317.3, 354], "padding": 0}, "axis": null},
   "order": {"field": "i", "type": "quantitative"}}}
]
}
